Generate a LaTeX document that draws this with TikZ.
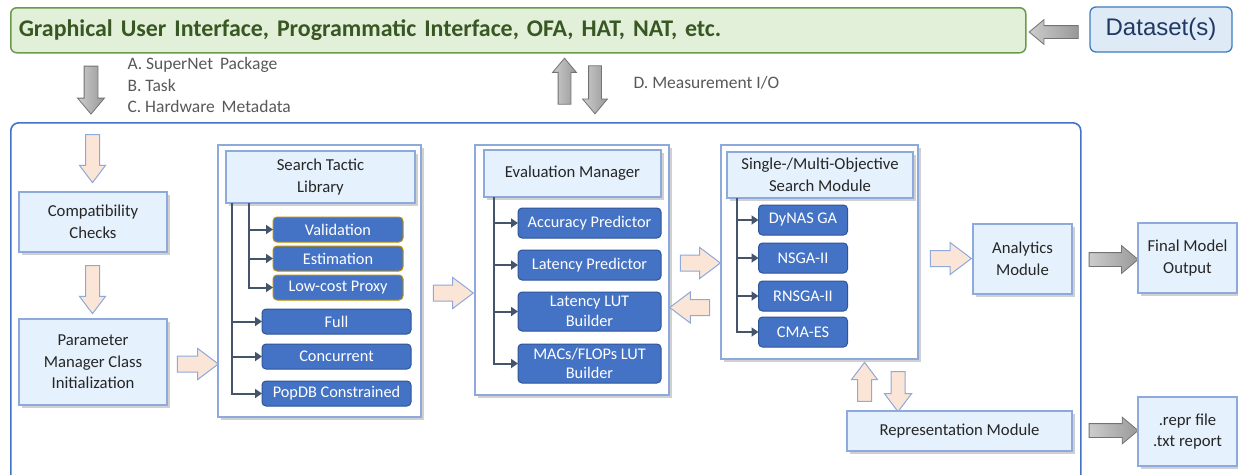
\documentclass[tikz,border=0pt]{standalone}
\usepackage{fontspec}
\setmainfont{Carlito}
\newfontfamily\dsfont{Liberation Sans}
\usetikzlibrary{shapes.arrows, shadows, arrows.meta, positioning}

\definecolor{guifill}{HTML}{E2F0D9}
\definecolor{guiline}{HTML}{6A9A4B}
\definecolor{guitext}{HTML}{385723}
\definecolor{dsfill}{HTML}{DEEBF7}
\definecolor{dsline}{HTML}{3D7CC0}
\definecolor{dstext}{HTML}{203864}
\definecolor{lbfill}{HTML}{E5F1FC}
\definecolor{lbline}{HTML}{8EA9DB}
\definecolor{mbfill}{HTML}{4472C4}
\definecolor{mbline}{HTML}{2F5597}
\definecolor{goldline}{HTML}{BF9000}
\definecolor{slate}{HTML}{44546A}
\definecolor{peach}{HTML}{FBE5D6}
\definecolor{notegray}{HTML}{595959}

\begin{document}
\begin{tikzpicture}[x=1pt,y=-1pt,font=\fontsize{16.7}{21.5}\selectfont]
\tikzset{
  lbox/.style={draw=lbline,fill=lbfill,line width=1.2pt,inner sep=0pt,outer sep=0pt,
               align=center,text=black!85,
               drop shadow={shadow xshift=2.5pt,shadow yshift=-2.5pt,fill=black!60,opacity=0.3}},
  frame/.style={lbox,fill=white},
  mbox/.style={draw=mbline,fill=mbfill,line width=1pt,rounded corners=4pt,inner sep=0pt,
               outer sep=0pt,text=white,align=center,font=\fontsize{16.3}{19.5}\selectfont},
  gbox/.style={mbox,draw=goldline},
  tree/.style={draw=slate,line width=2pt,-{Triangle[length=7pt,width=9pt]}},
  % #1 = half shaft, #2 = head extend
  pkarrow/.style 2 args={single arrow,draw=lbline,fill=peach,line width=1pt,inner xsep=0pt,
                  inner ysep=#1,single arrow tip angle=74,single arrow head extend=#2},
  gyarrow/.style 2 args={single arrow,draw=black!55,left color=gray!40,right color=gray!80,
                  line width=0.8pt,inner xsep=0pt,inner ysep=#1,single arrow tip angle=80,
                  single arrow head extend=#2},
  note/.style={text=notegray,anchor=base west,font=\fontsize{17.5}{21}\selectfont}
}
\useasboundingbox[fill=white] (0,0) rectangle (1238,474);

% top row
\node[draw=guiline,fill=guifill,line width=1.5pt,rounded corners=6pt,anchor=north west,
      minimum height=45pt,text width=999pt,inner xsep=8pt,align=left,text=guitext,
      font=\fontsize{23.9}{28}\selectfont\bfseries]                  (gui) at (10,7)
      {Graphical User Interface, Programmatic Interface, OFA, HAT, NAT, etc.};
\node[draw=dsline,fill=dsfill,line width=1.3pt,rounded corners=6pt,minimum width=142pt,
      minimum height=45pt,text=dstext,font=\dsfont\fontsize{24}{28}\selectfont]
                                                                    (data) at (1161,29.5) {Dataset(s)};
\node[gyarrow={6pt}{6pt},rotate=180,minimum height=49pt] (a0) at (1057.5,32) {};

% inputs and measurement
\node[gyarrow={6.5pt}{6.5pt},rotate=-90,minimum height=48pt] (a1) at (91,86) {};
\node[note] (na) at (124,69)  {A. SuperNet\, Package};
\node[note] (nb) at (124,91)  {B. Task};
\node[note] (nc) at (124,112) {C. Hardware\, Metadata};
\node[gyarrow={6pt}{5.5pt},rotate=90,minimum height=46pt]  (a2) at (564.5,85) {};
\node[gyarrow={6pt}{6pt},rotate=-90,minimum height=48pt]   (a3) at (595,86) {};
\node[note] (nd) at (630,88)  {D. Measurement I/O};

% main frame
\node[draw=mbfill,line width=1.6pt,rounded corners=8pt,anchor=north west,
      minimum width=1070pt,minimum height=420pt,inner sep=0pt] (core) at (10,122) {};

% setup column
\node[pkarrow={6.5pt}{6pt},rotate=-90,minimum height=48pt] (p1) at (92.5,154) {};
\node[lbox,minimum width=148pt,minimum height=60pt] (compat) at (93,222) {Compatibility\\Checks};
\node[pkarrow={6.5pt}{6pt},rotate=-90,minimum height=48pt] (p2) at (92.5,285) {};
\node[lbox,minimum width=148pt,minimum height=86pt] (param) at (93,362)
      {Parameter\\Manager Class\\Initialization};
\node[pkarrow={7.5pt}{7.5pt},minimum height=41pt] (p3) at (192.5,364) {};

% search tactic library
\node[frame,minimum width=203pt,minimum height=272pt] (stl) at (319.5,281) {};
\node[lbox,minimum width=189pt,minimum height=52pt] (stlhead) at (320.5,177) {Search Tactic\\Library};
\node[gbox,minimum width=130pt,minimum height=25pt] (val)   at (338,229.5)   {Validation};
\node[gbox,minimum width=130pt,minimum height=25pt] (est)   at (338,258.5)   {Estimation};
\node[gbox,minimum width=130pt,minimum height=25pt] (lcp)   at (338,287.5)   {Low-cost Proxy};
\node[mbox,minimum width=149pt,minimum height=25pt] (full)  at (336.5,321.5) {Full};
\node[mbox,minimum width=149pt,minimum height=25pt] (conc)  at (336.5,356.5) {Concurrent};
\node[mbox,minimum width=149pt,minimum height=25pt] (popdb) at (336.5,393.5) {PopDB Constrained};
\draw[tree] ([xshift=23pt]stlhead.south west) |- (val.west);
\draw[tree] ([xshift=23pt]stlhead.south west) |- (est.west);
\draw[tree] ([xshift=23pt]stlhead.south west) |- (lcp.west);
\draw[tree] ([xshift=6pt]stlhead.south west) |- (full.west);
\draw[tree] ([xshift=6pt]stlhead.south west) |- (conc.west);
\draw[tree] ([xshift=6pt]stlhead.south west) |- (popdb.west);
\node[pkarrow={7.5pt}{7.5pt},minimum height=40pt] (p4) at (448,293) {};

% evaluation manager
\node[frame,minimum width=194pt,minimum height=250pt] (eval) at (572,270) {};
\node[lbox,minimum width=177pt,minimum height=47pt] (evalhead) at (572.5,173.5) {Evaluation Manager};
\node[mbox,minimum width=143pt,minimum height=30pt] (accp)   at (589.5,223)   {Accuracy Predictor};
\node[mbox,minimum width=143pt,minimum height=30pt] (latp)   at (589.5,265)   {Latency Predictor};
\node[mbox,minimum width=143pt,minimum height=39pt] (latlut) at (589.5,311.5) {Latency LUT\\Builder};
\node[mbox,minimum width=143pt,minimum height=39pt] (maclut) at (589.5,363.5) {MACs/FLOPs LUT\\Builder};
\foreach \b in {accp,latp,latlut,maclut}
  \draw[tree] ([xshift=10pt]evalhead.south west) |- (\b.west);
\node[pkarrow={7.5pt}{7.5pt},minimum height=40pt] (p5) at (695,263) {};
\node[pkarrow={7.5pt}{7.5pt},rotate=180,minimum height=40pt] (p6) at (695,307.5) {};

% search module
\node[frame,minimum width=197pt,minimum height=214pt] (som) at (819.5,252) {};
\node[lbox,minimum width=186pt,minimum height=46pt] (somhead) at (820,175)
      {Single-/Multi-Objective\\Search Module};
\node[mbox,minimum width=89pt,minimum height=30pt] (dynas) at (803,220) {DyNAS GA};
\node[mbox,minimum width=89pt,minimum height=30pt] (nsga)  at (803,258) {NSGA-II};
\node[mbox,minimum width=89pt,minimum height=30pt] (rnsga) at (803,296) {RNSGA-II};
\node[mbox,minimum width=89pt,minimum height=30pt] (cmaes) at (803,332) {CMA-ES};
\foreach \b in {dynas,nsga,rnsga,cmaes}
  \draw[tree] ([xshift=10pt]somhead.south west) |- (\b.west);
\node[pkarrow={6.5pt}{6pt},rotate=90,minimum height=39pt]  (p7) at (864.5,386.5) {};
\node[pkarrow={6.5pt}{6.5pt},rotate=-90,minimum height=40pt] (p8) at (898,387) {};
\node[lbox,minimum width=225pt,minimum height=40pt] (repr) at (959.5,431) {Representation Module};

% outputs
\node[pkarrow={7.5pt}{8pt},minimum height=41pt] (p9) at (945.5,258.5) {};
\node[lbox,minimum width=99pt,minimum height=70pt] (anly) at (1022.5,259) {Analytics\\Module};
\node[gyarrow={6.5pt}{7pt},minimum height=49pt] (a4) at (1109.5,259.5) {};
\node[lbox,minimum width=99pt,minimum height=70pt] (final) at (1187.5,258) {Final Model\\Output};
\node[gyarrow={6.5pt}{6.5pt},minimum height=49pt] (a5) at (1109.5,430.5) {};
\node[lbox,minimum width=99pt,minimum height=69pt] (files) at (1187.5,431.5) {.repr file\\.txt report};

\end{tikzpicture}
\end{document}
